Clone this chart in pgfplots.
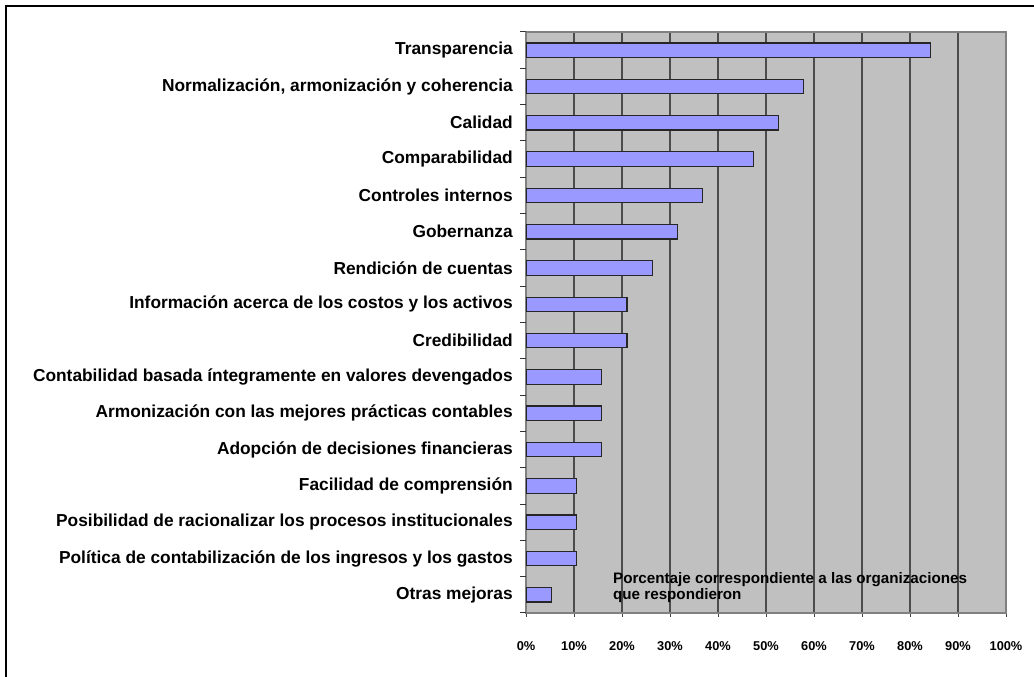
\documentclass[border=0pt]{standalone}
\usepackage{pgfplots}
\pgfplotsset{compat=1.18}
\usepackage{fontspec}
\setmainfont{Liberation Sans}
\definecolor{barfill}{HTML}{9999FF}
\definecolor{plotbg}{HTML}{C0C0C0}
\begin{document}
\begin{tikzpicture}
\path[use as bounding box] (0pt,0pt) rectangle (775.5pt,507.75pt);
\draw[line width=1.5pt] (4.5pt,-10pt) -- (4.5pt,503.25pt) -- (800pt,503.25pt);
\begin{axis}[
  at={(394.5pt,48pt)}, anchor=south west,
  width=360pt, height=435.75pt, scale only axis,
  xbar, bar width=10.8pt,
  xmin=0, xmax=100, ymin=-0.5, ymax=15.5,
  axis background/.style={fill=plotbg},
  axis line style={draw=black!50, line width=0.9pt},
  xtick={0,10,...,100},
  xticklabels={0\%,10\%,20\%,30\%,40\%,50\%,60\%,70\%,80\%,90\%,100\%},
  xtick pos=bottom, xtick align=outside,
  major tick length=3pt,
  xtick style={draw=black!75, line width=0.75pt},
  xmajorgrids,
  grid style={draw=black!70, line width=0.8pt},
  xticklabel style={font=\fontsize{9.6}{11}\selectfont\bfseries, inner sep=0pt, anchor=north, yshift=-18.5pt},
  ytick={0,...,15},
  ytick pos=left,
  ytick style={draw=none},
  yticklabel style={font=\fontsize{13}{15}\selectfont\bfseries, inner sep=0pt, anchor=east, xshift=-6.75pt},
  yticklabels={Otras mejoras,
    Política de contabilización de los ingresos y los gastos,
    Posibilidad de racionalizar los procesos institucionales,
    Facilidad de comprensión,
    Adopción de decisiones financieras\hspace{3pt},
    Armonización con las mejores prácticas contables,
    Contabilidad basada íntegramente en valores devengados,
    Credibilidad\hspace{3.5pt},
    Información acerca de los costos y los activos,
    Rendición de cuentas,
    Gobernanza,
    Controles internos,
    Comparabilidad,
    Calidad,
    {Normalización, armonización y coherencia},
    Transparencia},
  extra y ticks={-0.5,0.5,...,15.5},
  extra y tick labels={},
  extra y tick style={ytick style={draw=black!80, line width=0.75pt}, tick align=outside, major tick length=4.5pt, grid=none},
]
\addplot[fill=barfill, draw=black!85, line width=0.9pt] coordinates {
  (5.26,0) (10.53,1) (10.53,2) (10.53,3) (15.79,4) (15.79,5) (15.79,6)
  (21.05,7) (21.05,8) (26.32,9) (31.58,10) (36.84,11) (47.37,12)
  (52.63,13) (57.89,14) (84.21,15)
};
\node[anchor=north west, inner sep=0pt, align=left, font=\fontsize{11.4}{11.8}\selectfont\bfseries]
  at (axis cs:18.1,0.62) {Porcentaje correspondiente a las organizaciones\\que respondieron};
\end{axis}
\end{tikzpicture}
\end{document}
